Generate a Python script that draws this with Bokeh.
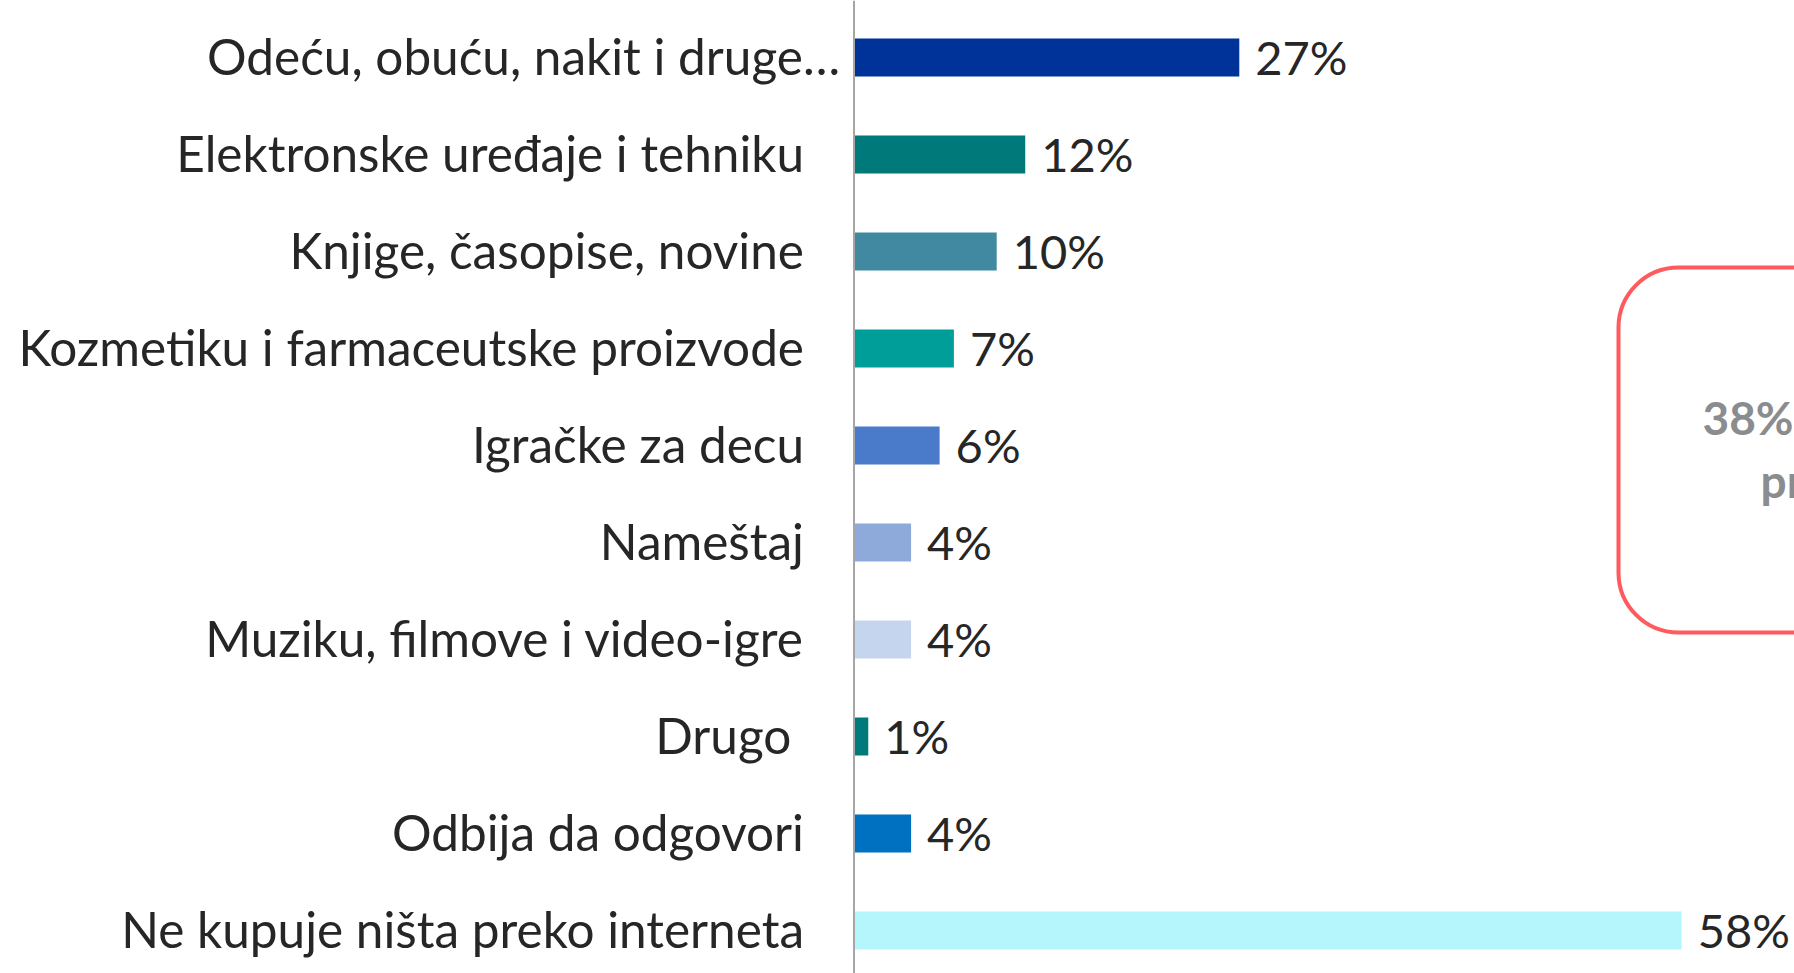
from bokeh.plotting import figure
from bokeh.models import ColumnDataSource, Range1d, Span, BoxAnnotation
from bokeh.core.properties import value
from bokeh.embed import file_html
from bokeh.resources import INLINE

categories = [
    "Odeću, obuću, nakit i druge…",
    "Elektronske uređaje i tehniku",
    "Knjige, časopise, novine",
    "Kozmetiku i farmaceutske proizvode",
    "Igračke za decu",
    "Nameštaj",
    "Muziku, filmove i video-igre",
    "Drugo\u00a0",
    "Odbija da odgovori",
    "Ne kupuje ništa preko interneta",
]
values = [27, 12, 10, 7, 6, 4, 4, 1, 4, 58]
colors = ["#003399", "#00797B", "#4189A0", "#009E99", "#4A7BCB",
          "#8EAADB", "#C5D5EE", "#00797B", "#0070C0", "#B4F6FC"]
box_text = ["38%", "pr"]

OFF = 0             # page offset of the canvas
W, H = 1794, 973
PX = 14.27          # pixels per percent
ROW = 97.0          # pixels per row
AX = 853.5 - OFF    # axis position within canvas
ROW0 = 57.0 - OFF   # first row centre within canvas

x_start = -AX / PX
x_end = (W - AX) / PX
y_top = -ROW0 / ROW
y_bot = (H - ROW0) / ROW

p = figure(width=W, height=H, x_range=Range1d(x_start, x_end),
           y_range=Range1d(y_bot, y_top), min_border=0,
           x_axis_location=None, y_axis_location=None,
           outline_line_color=None, toolbar_location=None,
           output_backend="svg", background_fill_color="white",
           border_fill_color="white")
p.grid.visible = False

n = len(categories)
idx = list(range(n))
src = ColumnDataSource(dict(
    y=idx, v=values, c=colors, cat=categories,
    lbl=[f"{v}%" for v in values],
    loff=[-14 if c.endswith("…") else -50 for c in categories],
))

p.hbar(y="y", left=0, right="v", height=38 / ROW, fill_color="c",
       line_color=None, source=src)

p.add_layout(Span(location=0, dimension="height", line_color="#A6A6A6",
                  line_width=2))

p.text(x=0, y="y", text="cat", x_offset="loff", y_offset=-2, source=src,
       text_align="right", text_baseline="middle",
       text_font=value("Lato"), text_font_size="49.5px", text_color="#262626")

p.text(x="v", y="y", text="lbl", x_offset=16, y_offset=-1, source=src,
       text_align="left", text_baseline="middle",
       text_font=value("Lato"), text_font_size="47px", text_color="#262626")

# rounded call-out box (partly outside the visible area)
bx_left = (1618 - OFF - AX) / PX
bx_top = (267 - OFF - ROW0) / ROW
bx_bot = (632 - OFF - ROW0) / ROW
p.add_layout(BoxAnnotation(left=bx_left, right=x_end + 20, top=bx_top,
                           bottom=bx_bot, fill_alpha=0,
                           line_color="#FF5B5E", line_alpha=1, line_width=4,
                           border_radius=60))

p.text(x=[(1702 - OFF - AX) / PX, (1760 - OFF - AX) / PX],
       y=[(417 - OFF - ROW0) / ROW, (480 - OFF - ROW0) / ROW],
       text=box_text, text_align="left", text_baseline="middle",
       text_font=value("Lato"), text_font_style="bold",
       text_font_size="46px", text_color="#8A8C8E")

open("out.html", "w").write(file_html(p, INLINE))
